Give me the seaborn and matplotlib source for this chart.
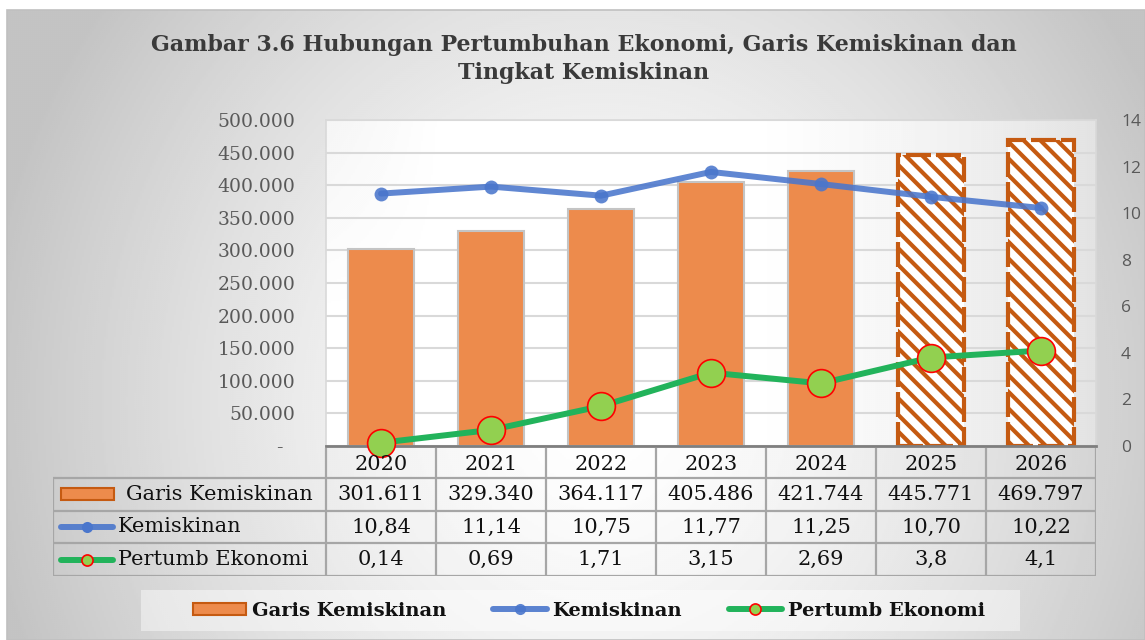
import numpy as np
import pandas as pd
import matplotlib
matplotlib.use("Agg")
import matplotlib.pyplot as plt
import seaborn as sns
from matplotlib.lines import Line2D
from matplotlib.patches import Rectangle, Patch

# ---------------- data ----------------
years = ["2020", "2021", "2022", "2023", "2024", "2025", "2026"]
garis_kemiskinan = [301611, 329340, 364117, 405486, 421744, 445771, 469797]
kemiskinan = [10.84, 11.14, 10.75, 11.77, 11.25, 10.70, 10.22]
pertumb_ekonomi = [0.14, 0.69, 1.71, 3.15, 2.69, 3.8, 4.1]
garis_labels = ["301.611", "329.340", "364.117", "405.486", "421.744", "445.771", "469.797"]
kemiskinan_labels = ["10,84", "11,14", "10,75", "11,77", "11,25", "10,70", "10,22"]
pertumb_labels = ["0,14", "0,69", "1,71", "3,15", "2,69", "3,8", "4,1"]
projected = [False, False, False, False, False, True, True]
left_ticks = [0, 50000, 100000, 150000, 200000, 250000, 300000, 350000, 400000, 450000, 500000]
left_tick_labels = ["-  ", "50.000", "100.000", "150.000", "200.000", "250.000",
                    "300.000", "350.000", "400.000", "450.000", "500.000"]
right_ticks = [0, 2, 4, 6, 8, 10, 12, 14]
series_names = ["Garis Kemiskinan", "Kemiskinan", "Pertumb Ekonomi"]
title = "Gambar 3.6 Hubungan Pertumbuhan Ekonomi, Garis Kemiskinan dan\nTingkat Kemiskinan"

# ---------------- style ----------------
BAR = "#ED8B4C"
BAR_DARK = "#C55A11"
BLUE = "#4A76CC"
GREEN = "#22B35B"
LGREEN = "#92D050"
GRID = "#d9d9d9"
TBL = "#a6a6a6"
TXT = "#111111"
TFS = 15

sns.set_theme(style="white")
plt.rcParams["font.family"] = ["DejaVu Serif"]
plt.rcParams["hatch.linewidth"] = 3.0

W, H = 1145, 640
fig = plt.figure(figsize=(W / 100, H / 100), dpi=100)
fig.patch.set_facecolor("white")


def fpos(x0, y0, x1, y1):
    return [x0 / W, 1 - y1 / H, (x1 - x0) / W, (y1 - y0) / H]


# ---------------- background ----------------
bg = fig.add_axes([0, 0, 1, 1], zorder=-10)
bg.set_xlim(0, W)
bg.set_ylim(H, 0)
bg.axis("off")
yy, xx = np.mgrid[10:H:2, 7:W:2]
d = np.sqrt(((xx - 600) / 560) ** 2 + ((yy - 400) / 600) ** 2)
val = 1 - 0.2 * np.clip(d, 0, 1.1) ** 1.5
bg.imshow(val, cmap="gray", vmin=0, vmax=1, extent=[7, W, H, 10], aspect="auto",
          interpolation="bilinear", zorder=0)
bg.add_patch(Rectangle((7, 10), W - 7, H - 10, fill=False, edgecolor="#c0c0c0", lw=1.2, zorder=1))
# plot-area lighter panel
py, px = np.mgrid[120:446:2, 326:1096:2]
pval = (1 - 0.11 * np.clip((px - 740) / 356, 0, 1) ** 1.3
        - 0.04 * np.clip(1 - (px - 326) / 120, 0, 1) * np.clip(1 - (py - 120) / 200, 0, 1))
bg.imshow(pval, cmap="gray", vmin=0, vmax=1, extent=[326, 1096, 446, 120], aspect="auto",
          interpolation="bilinear", zorder=2)
# legend panel
bg.add_patch(Rectangle((141, 590), 1020 - 141, 41, facecolor="white", alpha=0.45,
                       edgecolor="none", zorder=3))

# ---------------- main chart ----------------
df = pd.DataFrame({"Tahun": years, "Garis": garis_kemiskinan,
                   "Kemiskinan": kemiskinan, "Pertumb": pertumb_ekonomi})

ax = fig.add_axes(fpos(326, 120, 1096, 446))
ax.set_facecolor("none")
sns.barplot(data=df, x="Tahun", y="Garis", ax=ax, color=BAR, width=0.6,
            saturation=1, edgecolor="#c4c4c4", linewidth=1.5)
for patch, proj in zip(ax.patches, projected):
    if proj:
        patch.set_facecolor("white")
        patch.set_edgecolor(BAR_DARK)
        patch.set_hatch("\\\\")
        patch.set_linestyle((0, (6, 1.2)))
        patch.set_linewidth(3)
ax.set_xlim(-0.5, 6.5)
ax.set_ylim(0, 500000)
ax.set_yticks(left_ticks)
ax.set_yticklabels(left_tick_labels, color="#595959", fontsize=13.5)
ax.tick_params(axis="y", length=0, pad=22)
ax.tick_params(axis="x", length=0, labelbottom=False)
ax.set_xlabel("")
ax.set_ylabel("")
ax.yaxis.grid(True, color=GRID, lw=1.5)
ax.set_axisbelow(True)
for s in ["left", "top", "right"]:
    ax.spines[s].set_color(GRID)
    ax.spines[s].set_linewidth(1.2)
ax.spines["bottom"].set_color("#7f7f7f")
ax.spines["bottom"].set_linewidth(2)

ax2 = ax.twinx()
xpos = np.arange(len(years))
sns.lineplot(x=xpos, y=df["Kemiskinan"], ax=ax2, color=BLUE, linewidth=4.3, alpha=0.88,
             marker="o", markersize=10, markeredgewidth=0, markeredgecolor=BLUE, legend=False)
sns.lineplot(x=xpos, y=df["Pertumb"], ax=ax2, color=GREEN, linewidth=4.3,
             marker="o", markersize=20, markerfacecolor=LGREEN, markeredgecolor="red",
             markeredgewidth=1.2, legend=False, clip_on=False)
ax2.set_ylim(0, 14)
ax2.set_xlim(-0.5, 6.5)
ax2.set_yticks(right_ticks)
ax2.set_yticklabels([str(t) for t in right_ticks], color="#595959", fontsize=12.5,
                    fontfamily="Open Sans")
ax2.tick_params(axis="y", length=0, pad=18)
ax2.set_ylabel("")
ax2.set_xlabel("")
for s in ax2.spines.values():
    s.set_visible(False)

# ---------------- data table ----------------
TL, TR = 53, 1096
tb = fig.add_axes(fpos(TL, 448, TR, 576))
xl = -0.5 - (326 - TL) / 110
tb.set_xlim(xl, 6.5)
tb.set_ylim(0, 128)
tb.axis("off")


def tx(pxv):
    return xl + (pxv - TL) / 110


tb.hlines([0, 33, 65, 98], xl, 6.5, color=TBL, lw=1.6)
tb.vlines([xl], 0, 98, color=TBL, lw=1.6)
tb.vlines(np.arange(-0.5, 7, 1), 0, 128, color=TBL, lw=1.6)
row_y = [81.5, 49, 16.5]
for i, yr in enumerate(years):
    tb.text(i, 112, yr, ha="center", va="center", fontsize=TFS, color=TXT)
for labels, yv in zip([garis_labels, kemiskinan_labels, pertumb_labels], row_y):
    for i, lab in enumerate(labels):
        tb.text(i, yv, lab, ha="center", va="center", fontsize=TFS, color=TXT)
# row headers
tb.add_patch(Rectangle((tx(61), 76), 53 / 110, 12, facecolor=BAR, edgecolor=BAR_DARK, lw=1.5))
tb.text(tx(126), row_y[0], series_names[0], ha="left", va="center", fontsize=TFS, color=TXT)
tb.plot([tx(61), tx(113)], [row_y[1]] * 2, color=BLUE, lw=4.3, alpha=0.9, solid_capstyle="round")
tb.plot([tx(87)], [row_y[1]], marker="o", markersize=8, color=BLUE, mew=0)
tb.text(tx(118), row_y[1], series_names[1], ha="left", va="center", fontsize=TFS, color=TXT)
tb.plot([tx(61), tx(113)], [row_y[2]] * 2, color=GREEN, lw=4.3, solid_capstyle="round")
tb.plot([tx(87)], [row_y[2]], marker="o", markersize=8, markerfacecolor=LGREEN,
        markeredgecolor="red", mew=1.2)
tb.text(tx(118), row_y[2], series_names[2], ha="left", va="center", fontsize=TFS, color=TXT)

# ---------------- legend ----------------
handles = [
    Patch(facecolor=BAR, edgecolor=BAR_DARK, lw=1.5),
    Line2D([], [], color=BLUE, lw=4.3, marker="o", markersize=8, mew=0, alpha=0.9),
    Line2D([], [], color=GREEN, lw=4.3, marker="o", markersize=8, markerfacecolor=LGREEN,
           markeredgecolor="red", mew=1.2),
]
leg = fig.legend(handles, series_names, loc="center", bbox_to_anchor=(589 / W, 1 - 611 / H),
                 ncol=3, frameon=False,
                 prop={"family": "DejaVu Serif", "weight": "bold", "size": 14},
                 handlelength=2.75, handleheight=0.62, columnspacing=2.4, handletextpad=0.3)
for t in leg.get_texts():
    t.set_color("#111111")

# ---------------- title ----------------
fig.text(583.5 / W, 1 - 59 / H, title, ha="center", va="center", fontsize=15.9,
         fontweight="bold", color="#3a3a3a", linespacing=1.35)

fig.savefig("out.png", dpi=100, facecolor=fig.get_facecolor())
